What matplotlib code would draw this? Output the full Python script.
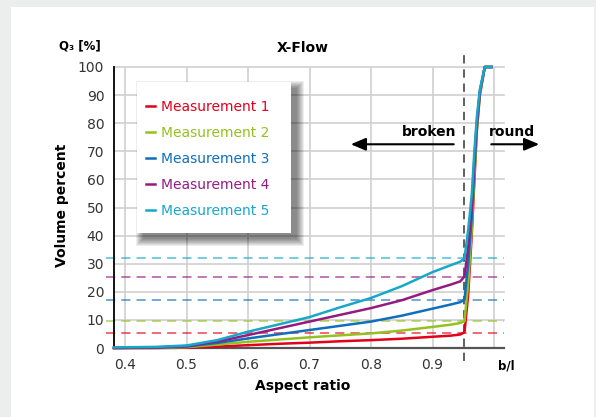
import numpy as np
import matplotlib
matplotlib.use('Agg')
import matplotlib.pyplot as plt
from matplotlib.patches import Rectangle
from matplotlib.lines import Line2D

# data
ratio = [0.382, 0.45, 0.5, 0.55, 0.6, 0.65, 0.7, 0.75, 0.8, 0.85, 0.9, 0.93, 0.945,
         0.952, 0.958, 0.964, 0.968, 0.972, 0.977, 0.985, 0.996]
m1 = [0, 0, 0.1, 0.5, 1.0, 1.5, 1.9, 2.4, 2.8, 3.3, 4.0, 4.4, 4.8,
      5.6, 19, 41, 59, 77, 90, 100, 100]
m2 = [0, 0, 0.3, 1.2, 2.2, 3.0, 3.8, 4.5, 5.2, 6.2, 7.5, 8.3, 8.9,
      9.5, 23, 43, 61, 78, 90.5, 100, 100]
m3 = [0, 0.1, 0.5, 1.8, 3.4, 4.9, 6.4, 7.9, 9.4, 11.5, 14.0, 15.5, 16.3,
      17.2, 30, 47, 64, 79, 91, 100, 100]
m4 = [0, 0.2, 0.7, 2.3, 4.6, 7.0, 9.4, 11.8, 14.2, 17.0, 20.6, 22.6, 23.7,
      25.4, 36, 51, 67, 80, 91.5, 100, 100]
m5 = [0.2, 0.4, 0.9, 2.8, 5.8, 8.4, 11.0, 14.5, 17.8, 22.0, 27.0, 29.5, 30.7,
      32.0, 42, 55, 70, 82, 92, 100, 100]
series = [m1, m2, m3, m4, m5]
labels = ['Measurement 1', 'Measurement 2', 'Measurement 3', 'Measurement 4', 'Measurement 5']
colors = ['#e2001a', '#95c11f', '#0f6fbd', '#951b81', '#17a8c8']
levels = [5.5, 9.6, 17.1, 25.2, 31.9]   # dashed reference levels
cutoff = 0.952
xticks = [0.4, 0.5, 0.6, 0.7, 0.8, 0.9]
yticks = list(range(0, 101, 10))

plt.rcParams['font.family'] = 'DejaVu Sans'

fig = plt.figure(figsize=(5.96, 4.17), dpi=100)
fig.patch.set_facecolor('#ebeeec')
fig.patches.append(Rectangle((11 / 596, 0), (594 - 11) / 596, (417 - 7) / 417,
                             transform=fig.transFigure, facecolor='white',
                             edgecolor='none', zorder=-10))

ax = fig.add_axes([114 / 596, 1 - 348 / 417, 388 / 596, 281 / 417])
ax.set_facecolor('none')
ax.set_xlim(0.382, 1.013)
ax.set_ylim(0, 100)

# grid
for xv in xticks + [1.0]:
    ax.plot([xv, xv], [0, 100], color='#d0d0d0', lw=1.2, zorder=1)
for yv in yticks:
    ax.plot([0.382, 1.016], [yv, yv], color='#d0d0d0', lw=1.2, zorder=1, clip_on=False)

# dashed levels
for lv, c in zip(levels, colors):
    ax.plot([0.369, 1.016], [lv, lv], color=c, lw=1.1, alpha=0.75,
            dashes=(6, 4), zorder=2, clip_on=False)

# cutoff line
ax.plot([cutoff, cutoff], [-4.5, 105], color='#444444', lw=1.2, dashes=(5, 3.5),
        zorder=3, clip_on=False)

# curves
for ys, c in zip(series, colors):
    ax.plot(ratio, ys, color=c, lw=1.8, zorder=4, clip_on=False, solid_joinstyle='round')

for s in ['top', 'right']:
    ax.spines[s].set_visible(False)
ax.spines['left'].set_color('black')
ax.spines['left'].set_linewidth(1.3)
ax.spines['bottom'].set_color('#555555')
ax.spines['bottom'].set_linewidth(1.6)
ax.spines['bottom'].set_bounds(0.382, 1.016)

ax.set_xticks(xticks)
ax.set_xticklabels([f'{v:.1f}' for v in xticks])
ax.set_yticks(yticks)
ax.tick_params(length=0, labelsize=10, colors='#333333', pad=7)

# arrows
ax.annotate('', xy=(0.7626, 72.5), xytext=(0.939, 72.5),
            arrowprops=dict(arrowstyle='-|>,head_length=0.9,head_width=0.38', color='black', lw=1.5),
            annotation_clip=False)
ax.annotate('', xy=(1.078, 72.5), xytext=(0.991, 72.5),
            arrowprops=dict(arrowstyle='-|>,head_length=0.9,head_width=0.38', color='black', lw=1.5),
            annotation_clip=False)
ax.text(0.939, 74.4, 'broken', ha='right', va='bottom', fontsize=10, fontweight='bold')
ax.text(0.991, 74.4, 'round', ha='left', va='bottom', fontsize=10, fontweight='bold', clip_on=False)

# legend box with soft shadow (offset to lower right)
px, py = 1 / 388, 1 / 281
bx, by, bw, bh = 0.060, 0.410, 0.396, 0.538
for i in range(7, -1, -1):
    ax.add_patch(Rectangle((bx + (6 - i) * px, by - (6 + i) * py),
                           bw + 2 * i * px, bh + 2 * i * py,
                           transform=ax.transAxes, facecolor='black',
                           edgecolor='none', alpha=0.07, zorder=5))
ax.add_patch(Rectangle((bx, by), bw, bh, transform=ax.transAxes,
                       facecolor='white', edgecolor='none', zorder=6))
handles = [Line2D([], [], color=c, lw=1.8) for c in colors]
leg = ax.legend(handles, labels, loc='upper left', bbox_to_anchor=(0.083, 0.884),
                frameon=False, fontsize=10, handlelength=0.6, handletextpad=0.5,
                labelspacing=0.87, borderpad=0, borderaxespad=0)
leg.set_zorder(7)
for t, c in zip(leg.get_texts(), colors):
    t.set_color(c)

# labels
fig.text(80 / 596, 1 - 46 / 417, 'Q₃ [%]', ha='center', va='center', fontsize=8.5, fontweight='bold')
fig.text(303 / 596, 1 - 48 / 417, 'X-Flow', ha='center', va='center', fontsize=10, fontweight='bold')
fig.text(62 / 596, 1 - 205 / 417, 'Volume percent', ha='center', va='center', rotation=90,
         fontsize=10, fontweight='bold')
fig.text(303 / 596, 1 - 386 / 417, 'Aspect ratio', ha='center', va='center', fontsize=10,
         fontweight='bold')
fig.text(506 / 596, 1 - 366 / 417, 'b/l', ha='center', va='center', fontsize=8.5, fontweight='bold')

fig.savefig('out.png', dpi=100, facecolor=fig.get_facecolor())
